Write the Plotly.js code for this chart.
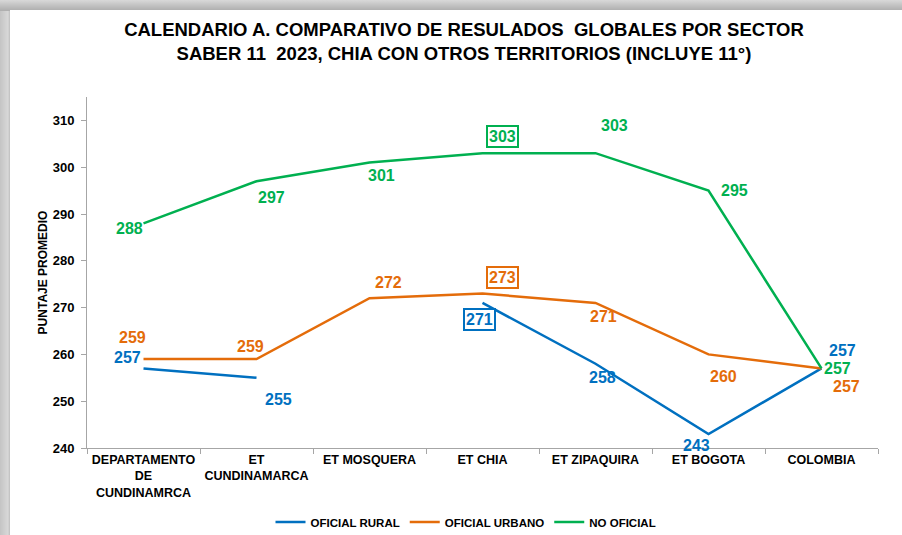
<!DOCTYPE html>
<html>
<head>
<meta charset="utf-8">
<script src="https://cdn.plot.ly/plotly-3.0.1.min.js"></script>
<style>
html,body{margin:0;padding:0;width:902px;height:535px;overflow:hidden;}
body{background:linear-gradient(to right,#c4c4c4 0px,#d8d8d8 8px,#bdbdbd 10px,#ffffff 11px);}
#topband{position:absolute;left:0;top:0;width:902px;height:11px;background:linear-gradient(to bottom,#d9d9d9 0px,#c8c8c8 4px,#b0b0b0 10px);}
#chart{position:absolute;left:10px;top:10px;width:892px;height:525px;}
</style>
</head>
<body>
<div id="topband"></div>
<div id="chart"></div>
<script>
// ---- data ----
const categories = ["DEPARTAMENTO<br>DE<br>CUNDINAMRCA", "ET<br>CUNDINAMARCA", "ET MOSQUERA", "ET CHIA", "ET ZIPAQUIRA", "ET BOGOTA", "COLOMBIA"];
const oficialRural  = [257, 255, null, 271, 258, 243, 257];
const oficialUrbano = [259, 259, 272, 273, 271, 260, 257];
const noOficial     = [288, 297, 301, 303, 303, 295, 257];
const seriesNames = ["OFICIAL RURAL", "OFICIAL URBANO", "NO OFICIAL"];

// ---- label placement (pixel offsets, styling only) ----
const ruralLabelShift  = [[-16, 11], [22, -22], [0, 0], [-3, -17], [7, -14], [-12, -12], [21, 18]];
const urbanoLabelShift = [[-11, 22], [-6, 13], [19, 16], [20, 16], [8, -14], [15, -22], [25, -18]];
const noOfLabelShift   = [[-14, -5], [15, -16], [12, -13], [20, 17], [19, 28], [26, 0], [16, 0]];
const boxedIndex = 3;

const colors = ["#0070C0", "#E46C0A", "#00B050"];
const seriesData = [oficialRural, oficialUrbano, noOficial];
const shifts = [ruralLabelShift, urbanoLabelShift, noOfLabelShift];
const FONT = "Liberation Sans, Arial, sans-serif";

const traces = seriesData.map((vals, k) => ({
  type: "scatter",
  mode: "lines",
  name: seriesNames[k],
  x: categories,
  y: vals,
  connectgaps: false,
  line: {color: colors[k], width: 2.5},
  hoverinfo: "x+y"
}));

const annotations = [];
seriesData.forEach((vals, k) => {
  vals.forEach((v, i) => {
    if (v === null) return;
    const boxed = (i === boxedIndex);
    annotations.push({
      x: categories[i], y: v, xref: "x", yref: "y",
      text: String(v), showarrow: false,
      xshift: shifts[k][i][0], yshift: shifts[k][i][1],
      font: {family: FONT, size: 16, color: colors[k], weight: "bold"},
      bordercolor: boxed ? colors[k] : "rgba(0,0,0,0)",
      borderwidth: boxed ? 2 : 0,
      borderpad: boxed ? 1 : 0,
      bgcolor: boxed ? "#ffffff" : "rgba(0,0,0,0)"
    });
  });
});

const layout = {
  width: 892, height: 525,
  paper_bgcolor: "#ffffff", plot_bgcolor: "#ffffff",
  margin: {l: 77, r: 24, t: 87, b: 87},
  font: {family: FONT, color: "#000000"},
  title: {
    text: "<b>CALENDARIO A. COMPARATIVO DE RESULADOS  GLOBALES POR SECTOR<br>SABER 11  2023, CHIA CON OTROS TERRITORIOS (INCLUYE 11°)</b>",
    font: {family: FONT, size: 18.5, color: "#000000"},
    x: 454/892, xref: "container", xanchor: "center",
    y: 1 - 26/525, yref: "container", yanchor: "top"
  },
  xaxis: {
    type: "category",
    range: [-0.5, 6.5],
    tickson: "boundaries",
    tickangle: 0,
    ticks: "outside", ticklen: 5, tickcolor: "#a6a6a6",
    showline: true, linecolor: "#a6a6a6", linewidth: 1,
    showgrid: false, zeroline: false,
    tickfont: {family: FONT, size: 12.5, color: "#000000", weight: "bold"},
    fixedrange: true
  },
  yaxis: {
    range: [240, 315],
    tickvals: [240, 250, 260, 270, 280, 290, 300, 310],
    ticks: "outside", ticklen: 5, tickcolor: "#a6a6a6",
    ticklabelstandoff: 4,
    showline: true, linecolor: "#a6a6a6", linewidth: 1,
    showgrid: false, zeroline: false,
    tickfont: {family: FONT, size: 13, color: "#000000", weight: "bold"},
    title: {text: "<b>PUNTAJE PROMEDIO</b>", font: {family: FONT, size: 12, color: "#000000"}, standoff: 2},
    fixedrange: true
  },
  showlegend: true,
  legend: {
    orientation: "h",
    x: 456/892, xref: "container", xanchor: "center",
    y: 1 - 512/525, yref: "container", yanchor: "middle",
    font: {family: FONT, size: 11.5, color: "#000000", weight: "bold"},
    tracegroupgap: 0
  },
  annotations: annotations
};

Plotly.newPlot("chart", traces, layout, {displayModeBar: false, staticPlot: true});
</script>
</body>
</html>
